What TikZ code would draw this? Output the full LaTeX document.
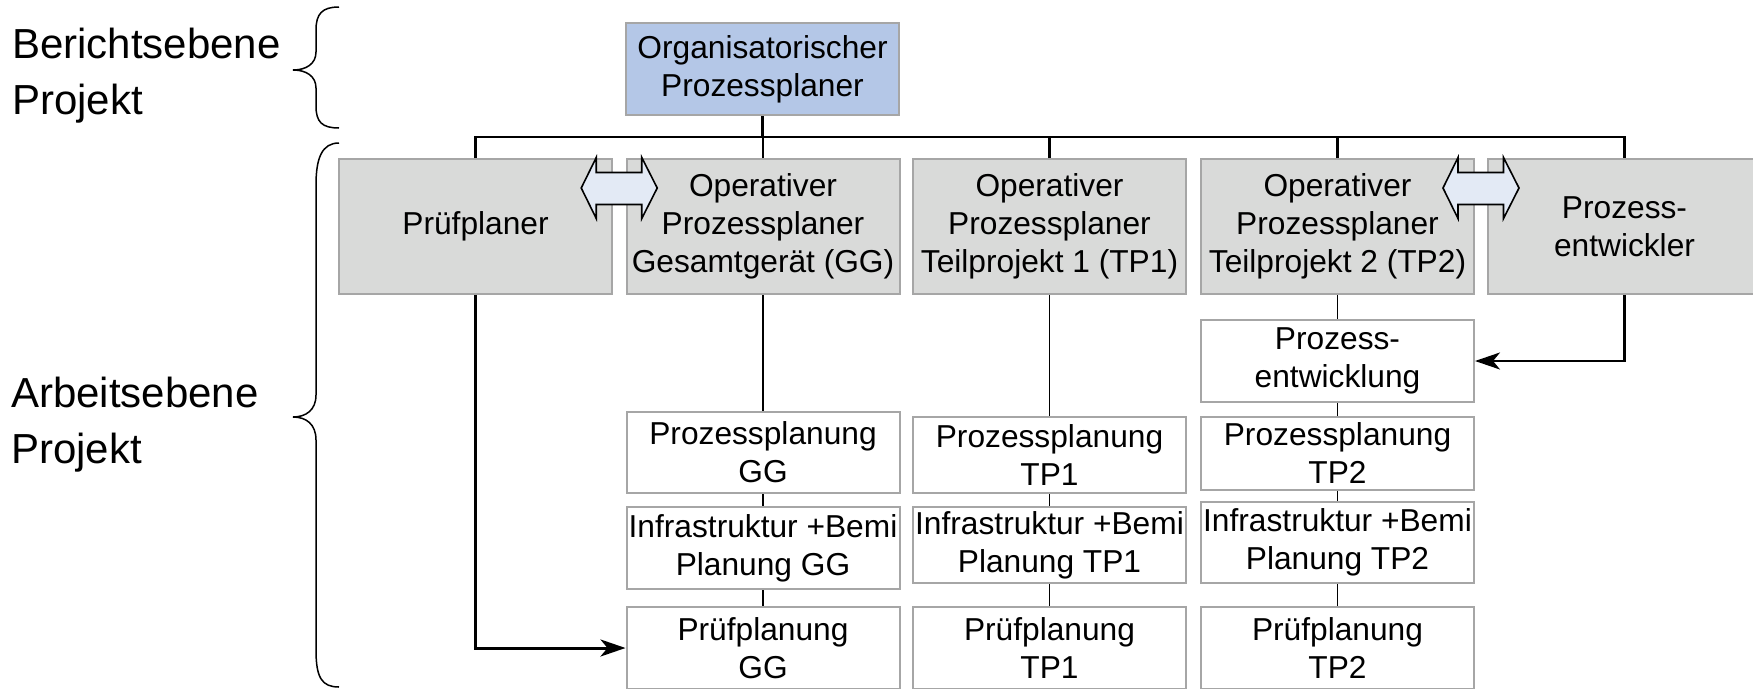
\documentclass[tikz,border=0pt]{standalone}
\usepackage{fontspec}
\setmainfont{Liberation Sans}
\usetikzlibrary{arrows.meta,calc}
\definecolor{boxgray}{HTML}{D9DAD9}
\definecolor{boxline}{HTML}{A6A6A6}
\definecolor{orgblue}{HTML}{B4C7E7}
\definecolor{arrfill}{HTML}{E3EAF5}
\begin{document}
\begin{tikzpicture}[x=1pt,y=-1pt,
  box/.style={draw=boxline, line width=2pt, minimum width=273pt, inner sep=0pt, align=center, font=\fontsize{31.7}{38}\selectfont},
  gbox/.style={box, fill=boxgray},
  wbox/.style={box, fill=white},
  obox/.style={box, fill=orgblue},
  lbl/.style={inner sep=0pt, align=left, anchor=west, font=\fontsize{42}{56.5}\selectfont},
  conn/.style={draw=black, line width=1.8pt},
  bus/.style={draw=black, line width=2.2pt},
  arr/.style={draw=black, line width=2.2pt, -{Stealth[length=25pt, width=17pt, inset=7pt]}},
  tarr/.style={draw=black, line width=3pt, -{Stealth[length=25pt, width=17pt, inset=7pt]}},
  dbl/.style={draw=black, line width=1.6pt, fill=arrfill, line join=miter},
  brc/.style={draw=black, line width=1.5pt}
]
\useasboundingbox (0,0) rectangle (1753,688);
\fill[white] (0,0) rectangle (1753,688);

% labels
\node[lbl] (lb1) at (12,75.4) {Berichtsebene\\Projekt};
\node[lbl] (lb2) at (11,424.4) {Arbeitsebene\\Projekt};

% braces
\draw[brc] (339,7) .. controls (322,7) and (316,14) .. (316,30) -- (316,52)
  .. controls (316,64) and (306,70) .. (293,70)
  .. controls (306,70) and (316,76) .. (316,88) -- (316,106)
  .. controls (316,122) and (322,128) .. (339,128);
\draw[brc] (339,143) .. controls (322,143) and (316,158) .. (316,185) -- (316,395)
  .. controls (316,410) and (306,417) .. (293,417)
  .. controls (306,417) and (316,424) .. (316,440) -- (316,650)
  .. controls (316,678) and (322,687) .. (339,687);

% top
\node[obox, minimum height=92pt] (org) at (762.5,69) {Organisatorischer\\Prozessplaner};

% first row
\node[gbox, minimum height=135pt] (pp) at (475.5,226.5) {Prüfplaner};
\node[gbox, minimum height=135pt] (gg) at (763,226.5) {Operativer\\Prozessplaner\\Gesamtgerät (GG)};
\node[gbox, minimum height=135pt] (tp1) at (1049.5,226.5) {Operativer\\Prozessplaner\\Teilprojekt 1 (TP1)};
\node[gbox, minimum height=135pt] (tp2) at (1337.5,226.5) {Operativer\\Prozessplaner\\Teilprojekt 2 (TP2)};
\node[gbox, minimum height=135pt] (pe) at (1624.5,226.5) {Prozess-\\entwickler};

% GG column
\node[wbox, minimum height=81pt] (pgg) at (763,452.5) {Prozessplanung\\GG};
\node[wbox, minimum height=82pt] (igg) at (763,548) {Infrastruktur +Bemi\\Planung GG};
\node[wbox, minimum height=82pt] (rgg) at (763,648) {Prüfplanung\\GG};

% TP1 column
\node[wbox, minimum height=76pt] (ptp1) at (1049.5,455) {Prozessplanung\\TP1};
\node[wbox, minimum height=76pt] (itp1) at (1049.5,545) {Infrastruktur +Bemi\\Planung TP1};
\node[wbox, minimum height=82pt] (rtp1) at (1049.5,648) {Prüfplanung\\TP1};

% TP2 column
\node[wbox, minimum height=82pt] (ent) at (1337.5,361) {Prozess-\\entwicklung};
\node[wbox, minimum height=73pt] (ptp2) at (1337.5,453.5) {Prozessplanung\\TP2};
\node[wbox, minimum height=81pt] (itp2) at (1337.5,542.5) {Infrastruktur +Bemi\\Planung TP2};
\node[wbox, minimum height=82pt] (rtp2) at (1337.5,648) {Prüfplanung\\TP2};

% bus
\coordinate (busc) at (762.5,137);
\draw[bus] (pp.north) |- (busc) -| (pe.north);
\draw[bus] (org.south) -- (busc);
\draw[bus] (gg.north) -- (gg.north |- busc);
\draw[bus] (tp1.north) -- (tp1.north |- busc);
\draw[bus] (tp2.north) -- (tp2.north |- busc);

% column connectors
\draw[conn] (gg.south) -- (pgg.north);
\draw[conn] (pgg.south) -- (igg.north);
\draw[conn] (igg.south) -- (rgg.north);
\draw[conn] (tp1.south) -- (ptp1.north);
\draw[conn] (ptp1.south) -- (itp1.north);
\draw[conn] (itp1.south) -- (rtp1.north);
\draw[conn] (tp2.south) -- (ent.north);
\draw[conn] (ent.south) -- (ptp2.north);
\draw[conn] (ptp2.south) -- (itp2.north);
\draw[conn] (itp2.south) -- (rtp2.north);

% arrows
\draw[tarr] (pp.south) |- (rgg.west);
\draw[arr] (pe.south) |- (ent.east);

% double arrows
\coordinate (d1) at ($(pp.north east)!0.5!(gg.north west)+(0,30)$);
\coordinate (d2) at ($(tp2.north east)!0.5!(pe.north west)+(0,30)$);
\foreach \d in {d1,d2}{
  \draw[dbl] ($(\d)+(-38,0)$) -- ($(\d)+(-23,-30.5)$) -- ($(\d)+(-23,-15.5)$) -- ($(\d)+(22.5,-15.5)$)
    -- ($(\d)+(22.5,-30.5)$) -- ($(\d)+(38,0)$) -- ($(\d)+(22.5,30.5)$) -- ($(\d)+(22.5,16.5)$)
    -- ($(\d)+(-23,16.5)$) -- ($(\d)+(-23,30.5)$) -- cycle;
}
\end{tikzpicture}
\end{document}
